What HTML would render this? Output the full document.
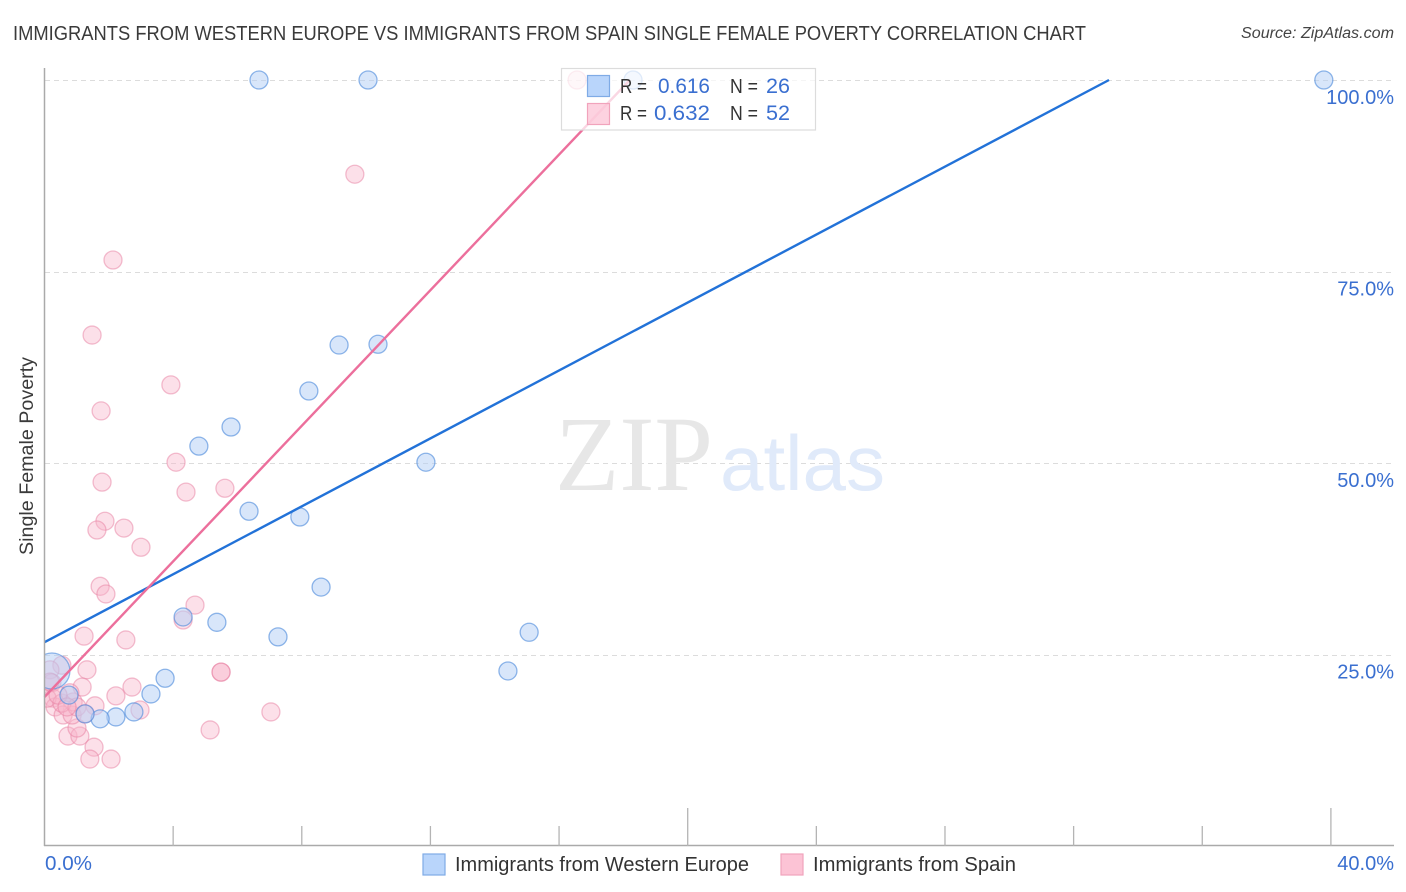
<!DOCTYPE html>
<html lang="en">
<head>
<meta charset="utf-8">
<title>Single Female Poverty Correlation Chart</title>
<style>
html,body{margin:0;padding:0;background:#fff;}
svg{display:block;font-family:"Liberation Sans",sans-serif;}
</style>
</head>
<body>
<svg id="chart" width="1406" height="892" viewBox="0 0 1406 892" xmlns="http://www.w3.org/2000/svg">
  <defs><clipPath id="plot-clip"><rect x="45" y="60" width="1349" height="786"/></clipPath></defs>
  <text x="13" y="40" font-size="20" fill="#3a3a3a" textLength="1073" lengthAdjust="spacingAndGlyphs">IMMIGRANTS FROM WESTERN EUROPE VS IMMIGRANTS FROM SPAIN SINGLE FEMALE POVERTY CORRELATION CHART</text>
  <text x="1241" y="38" font-size="15.5" font-style="italic" fill="#444" textLength="153" lengthAdjust="spacingAndGlyphs">Source: ZipAtlas.com</text>
  <g id="grid"></g>
  <g>
    <text x="555" y="490" font-family="'Liberation Serif',serif" font-size="107" fill="#e7e7e7" textLength="158" lengthAdjust="spacingAndGlyphs">ZIP</text>
    <text x="720" y="490" font-size="78" fill="#e0eafa" textLength="165" lengthAdjust="spacingAndGlyphs">atlas</text>
  </g>
  <g id="points" clip-path="url(#plot-clip)"></g>
  <g id="trends"></g>
  <g id="axes"></g>
  <text transform="translate(33,456) rotate(-90)" text-anchor="middle" font-size="19.5" fill="#3a3a3a" textLength="198" lengthAdjust="spacingAndGlyphs">Single Female Poverty</text>
  <g>
    <rect x="561.5" y="68.5" width="254" height="61.5" fill="#fff" fill-opacity="0.72" stroke="#dcdcdc" stroke-width="1.2"/>
    <rect x="587.5" y="75.5" width="22" height="21" fill="#b9d5fb" stroke="#7fabe6" stroke-width="1.2"/>
    <rect x="587.5" y="103.5" width="22" height="21" fill="#fcc3d5" fill-opacity="0.75" stroke="#f1a3bc" stroke-width="1.2"/>
    <text x="620" y="93" font-size="20" fill="#333" textLength="27" lengthAdjust="spacingAndGlyphs">R =</text>
    <text x="658" y="93" font-size="21" fill="#3a6fd0" textLength="52" lengthAdjust="spacingAndGlyphs">0.616</text>
    <text x="730" y="93" font-size="20" fill="#333" textLength="28" lengthAdjust="spacingAndGlyphs">N =</text>
    <text x="766" y="93" font-size="21" fill="#3a6fd0" textLength="24" lengthAdjust="spacingAndGlyphs">26</text>
    <text x="620" y="120" font-size="20" fill="#333" textLength="27" lengthAdjust="spacingAndGlyphs">R =</text>
    <text x="654" y="120" font-size="21" fill="#3a6fd0" textLength="56" lengthAdjust="spacingAndGlyphs">0.632</text>
    <text x="730" y="120" font-size="20" fill="#333" textLength="28" lengthAdjust="spacingAndGlyphs">N =</text>
    <text x="766" y="120" font-size="21" fill="#3a6fd0" textLength="24" lengthAdjust="spacingAndGlyphs">52</text>
  </g>
  <g>
    <rect x="423" y="854" width="22" height="21" fill="#b9d5fb" stroke="#7fabe6" stroke-width="1.2"/>
    <text x="455" y="871" font-size="20" fill="#333" textLength="294" lengthAdjust="spacingAndGlyphs">Immigrants from Western Europe</text>
    <rect x="781" y="854" width="22" height="21" fill="#fcc3d5" stroke="#f1a3bc" stroke-width="1.2"/>
    <text x="813" y="871" font-size="20" fill="#333" textLength="203" lengthAdjust="spacingAndGlyphs">Immigrants from Spain</text>
  </g>
</svg>
<script>
var yTickValues = [25, 50, 75, 100];
var yTickLabels = ["25.0%", "50.0%", "75.0%", "100.0%"];
var xTickValues = [4, 8, 12, 16, 20, 24, 28, 32, 36, 40];
var xMajorTicks = [20, 40];
var xEndLabels = ["0.0%", "40.0%"];

var blueX = [6.67, 10.06, 39.78, 18.3, 9.16, 10.37, 8.22, 5.8, 4.8, 11.86, 6.36, 7.94, 8.6, 4.31, 5.36, 7.26, 15.07, 14.41, 3.75, 3.31, 2.78, 2.22, 1.73, 1.26, 0.76, 0.23];
var blueY = [100, 100, 100, 100, 65.4, 65.5, 59.4, 54.7, 52.2, 50.1, 43.7, 42.95, 33.8, 29.9, 29.2, 27.3, 27.9, 22.85, 21.9, 19.85, 17.5, 16.85, 16.6, 17.25, 19.7, 22.85];
var blueWeight = [1, 1, 1, 1, 1, 1, 1, 1, 1, 1, 1, 1, 1, 1, 1, 1, 1, 1, 1, 1, 1, 1, 1, 1, 1, 4];

var pinkX = [16.56, 9.65, 2.13, 1.48, 3.93, 1.76, 4.09, 4.4, 5.61, 1.79, 1.88, 1.63, 2.47, 3.0, 1.73, 1.91, 4.68, 4.31, 1.23, 2.53, 5.49, 5.49, 0.54, 1.32, 0.17, 0.23, 1.17, 1.57, 2.22, 2.72, 2.97, 7.04, 5.15, 0.73, 1.1, 1.01, 1.54, 1.41, 2.07, 0.26, 0.33, 0.08, 0.58, 0.86, 0.89, 0.54, 0.79, 0.42, 1.01, 0.7, 1.26, 0.17];
var pinkY = [100, 87.7, 76.5, 66.7, 60.2, 56.8, 50.1, 46.2, 46.7, 47.5, 42.4, 41.25, 41.5, 39.0, 33.9, 32.9, 31.45, 29.5, 27.4, 26.9, 22.7, 22.7, 23.6, 23.0, 23.0, 21.3, 20.75, 18.3, 19.6, 20.75, 17.75, 17.5, 15.15, 14.35, 14.35, 15.4, 12.9, 11.35, 11.35, 19.3, 18.15, 19.3, 17.1, 17.1, 18.8, 18.65, 20.0, 19.7, 18.15, 18.15, 17.25, 21.4];

var blueTrendX = [0, 33.1];
var blueTrendY = [26.6, 100];
var pinkTrendX = [0, 18.2];
var pinkTrendY = [19.45, 100];

var NS = "http://www.w3.org/2000/svg";
function xAxis(v) { return 44.5 + v * 32.16; }
function yAxis(v) { return 846 - v * 7.66; }
function make(tag, attrs, parent, text) {
  var el = document.createElementNS(NS, tag);
  for (var k in attrs) { el.setAttribute(k, attrs[k]); }
  if (text !== undefined) { el.textContent = text; }
  parent.appendChild(el);
  return el;
}

var grid = document.getElementById("grid");
var axes = document.getElementById("axes");
var pointsLayer = document.getElementById("points");
var trends = document.getElementById("trends");

yTickValues.forEach(function (v, i) {
  var y = Math.round(yAxis(v)) + 0.5;
  var line = make("line", {x1: 45, x2: 1394, y1: y, y2: y, stroke: "#dcdcdc", "stroke-width": 1, "stroke-dasharray": "5 4"}, grid);
  
  
  var label = make("text", {x: 1394, y: yAxis(v) + 24, "text-anchor": "end", "font-size": 20, fill: "#3a6fd0"}, axes, yTickLabels[i]);
  
  
});

var yLine = make("line", {x1: 44.5, x2: 44.5, y1: 68, y2: 846, stroke: "#aaa", "stroke-width": 1.5}, axes);


var xLine = make("line", {x1: 44, x2: 1394, y1: 845.5, y2: 845.5, stroke: "#aaa", "stroke-width": 1.5}, axes);



xTickValues.forEach(function (v) {
  var major = xMajorTicks.indexOf(v) >= 0;
  var tick = make("line", {x1: xAxis(v), x2: xAxis(v), y1: major ? 808 : 826, y2: 846, stroke: "#b4b4b4", "stroke-width": 1.3}, axes);
  
  
});

var xLabelLeft = make("text", {x: 45, y: 870, "font-size": 20, fill: "#3a6fd0", textLength: 47, lengthAdjust: "spacingAndGlyphs"}, axes, xEndLabels[0]);


var xLabelRight = make("text", {x: 1394, y: 870, "text-anchor": "end", "font-size": 20, fill: "#3a6fd0"}, axes, xEndLabels[1]);



pinkX.forEach(function (v, i) {
  var c = make("circle", {cx: xAxis(v), cy: yAxis(pinkY[i]), r: 9, fill: "#f8b4ca", "fill-opacity": 0.42, stroke: "#e77fa2", "stroke-opacity": 0.5, "stroke-width": 1.3}, pointsLayer);
  
  
});

blueX.forEach(function (v, i) {
  var c = make("circle", {cx: xAxis(v), cy: yAxis(blueY[i]), r: 9 * Math.sqrt(blueWeight[i]), fill: "#b4d0f6", "fill-opacity": 0.52, stroke: "#4d8adb", "stroke-opacity": 0.62, "stroke-width": 1.3}, pointsLayer);
  
  
});

var blueLine = make("line", {x1: xAxis(blueTrendX[0]), y1: yAxis(blueTrendY[0]), x2: xAxis(blueTrendX[1]), y2: yAxis(blueTrendY[1]), stroke: "#2272d8", "stroke-width": 2.4}, trends);


var pinkLine = make("line", {x1: xAxis(pinkTrendX[0]), y1: yAxis(pinkTrendY[0]), x2: xAxis(pinkTrendX[1]), y2: yAxis(pinkTrendY[1]), stroke: "#ec6f9c", "stroke-width": 2.4}, trends);


</script>
</body>
</html>
